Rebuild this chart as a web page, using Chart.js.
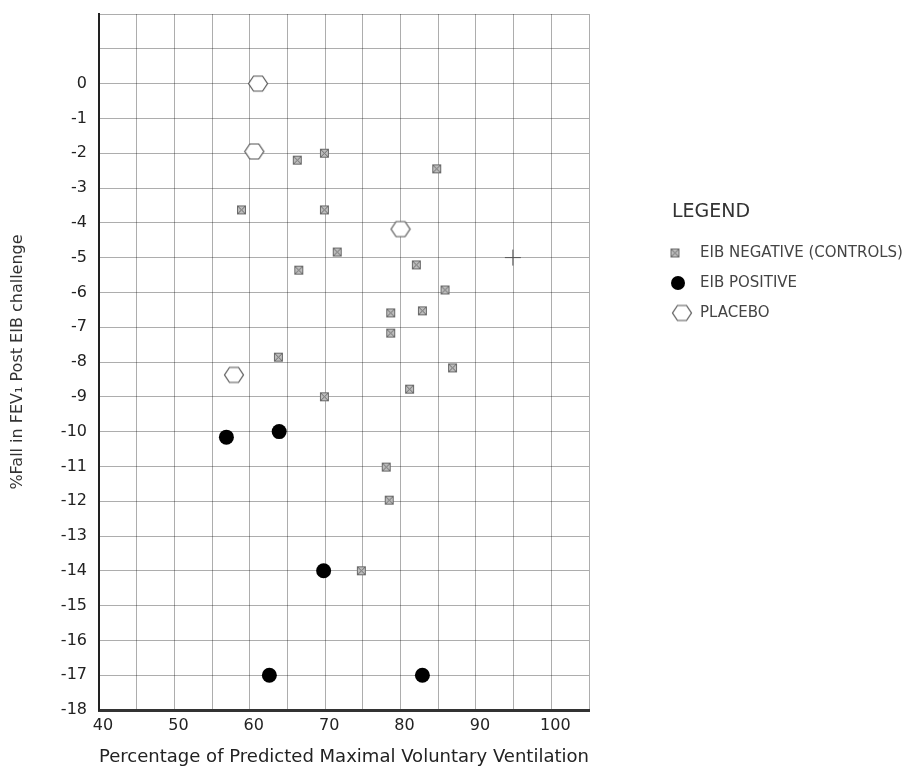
<!DOCTYPE html>
<html>
<head>
<meta charset="utf-8">
<title>% Fall in FEV1 vs MVV</title>
<script src="https://cdn.jsdelivr.net/npm/chart.js@4/dist/chart.umd.min.js"></script>
<style>
  html, body { margin: 0; padding: 0; background: #fff; }
  #wrap { width: 909px; height: 769px; }
</style>
</head>
<body>
<div id="wrap"><canvas id="mvvChart" width="909" height="769"></canvas></div>
<script>
"use strict";

// EIB negative (controls)
const negativeX = [66.3, 69.9, 84.8, 58.9, 69.9, 71.6, 66.5, 82.1, 85.9, 78.7, 82.9, 78.7, 63.8, 86.9, 81.2, 69.9, 78.1, 78.5, 74.8];
const negativeY = [-2.2, -2.0, -2.45, -3.63, -3.63, -4.84, -5.36, -5.21, -5.93, -6.59, -6.53, -7.17, -7.86, -8.17, -8.78, -9.0, -11.02, -11.97, -14.0];

// EIB positive
const positiveX = [56.9, 63.9, 69.8, 62.6, 82.9];
const positiveY = [-10.16, -10.0, -14.0, -17.0, -17.0];

// placebo
const placeboX = [61.1, 60.6, 80.0, 57.9];
const placeboY = [0, -1.95, -4.18, -8.37];

// stray cross mark
const crossX = [94.9];
const crossY = [-5.0];

const xTicks = { min: 40, max: 105, step: 5, labelEvery: 10 };
const yTicks = { min: -18, max: 2, step: 1 };

const GRID = "rgba(0,0,0,0.32)";
Chart.defaults.font.family = "'DejaVu Sans', sans-serif";

function points(xs, ys) {
  return xs.map((x, i) => ({ x, y: ys[i] }));
}

function negMarker() {
  const c = document.createElement("canvas");
  c.width = 11;
  c.height = 11;
  const g = c.getContext("2d");
  g.fillStyle = "#bdbdbd";
  g.fillRect(1.5, 1.5, 8, 8);
  g.strokeStyle = "#6a6a6a";
  g.lineWidth = 1;
  g.strokeRect(1.5, 1.5, 8, 8);
  g.beginPath();
  g.moveTo(1.5, 1.5);
  g.lineTo(9.5, 9.5);
  g.moveTo(9.5, 1.5);
  g.lineTo(1.5, 9.5);
  g.stroke();
  return c;
}

function hexMarker() {
  const c = document.createElement("canvas");
  c.width = 22;
  c.height = 19;
  const g = c.getContext("2d");
  const cx = 11, cy = 9.5;
  g.beginPath();
  g.moveTo(cx - 9.5, cy);
  g.lineTo(cx - 4.5, cy - 7.5);
  g.lineTo(cx + 4.5, cy - 7.5);
  g.lineTo(cx + 9.5, cy);
  g.lineTo(cx + 4.5, cy + 7.5);
  g.lineTo(cx - 4.5, cy + 7.5);
  g.closePath();
  g.fillStyle = "#fff";
  g.fill();
  g.strokeStyle = "#555";
  g.lineWidth = 1.2;
  g.stroke();
  return c;
}

const negImg = negMarker();
const hexImg = hexMarker();

// legend drawn at the side, like the original figure
const sideLegend = {
  id: "sideLegend",
  afterDraw(chart) {
    const c = chart.ctx;
    const items = [
      { ds: 0, mx: 675, y: 253 },
      { ds: 1, mx: 678, y: 283 },
      { ds: 2, mx: 682, y: 313 },
    ];
    c.save();
    c.textBaseline = "middle";
    c.fillStyle = "#333";
    c.font = "19px 'DejaVu Sans', sans-serif";
    c.fillText("LEGEND", 672, 212);
    c.font = "15px 'DejaVu Sans', sans-serif";
    items.forEach((it) => {
      const ds = chart.data.datasets[it.ds];
      if (ds.pointStyle instanceof HTMLCanvasElement) {
        const img = ds.pointStyle;
        c.drawImage(img, it.mx - img.width / 2, it.y - img.height / 2);
      } else {
        c.beginPath();
        c.arc(it.mx, it.y, 7, 0, Math.PI * 2);
        c.fillStyle = "#000";
        c.fill();
      }
      c.fillStyle = "#444";
      c.fillText(ds.label, 700, it.y);
    });
    c.restore();
  },
};

const ctx = document.getElementById("mvvChart").getContext("2d");
new Chart(ctx, {
  type: "scatter",
  data: {
    datasets: [
      {
        label: "EIB NEGATIVE (CONTROLS)",
        data: points(negativeX, negativeY),
        pointStyle: negImg,
        pointRadius: 5,
      },
      {
        label: "EIB POSITIVE",
        data: points(positiveX, positiveY),
        pointStyle: "circle",
        pointRadius: 7.5,
        backgroundColor: "#000",
        borderColor: "#000",
        borderWidth: 0,
      },
      {
        label: "PLACEBO",
        data: points(placeboX, placeboY),
        pointStyle: hexImg,
        pointRadius: 9,
      },
      {
        label: "",
        data: points(crossX, crossY),
        pointStyle: "cross",
        pointRadius: 8,
        borderColor: "#555",
        borderWidth: 1,
      },
    ],
  },
  options: {
    responsive: false,
    animation: false,
    layout: { padding: { top: 14, right: 320, left: 0, bottom: 0 } },
    plugins: { legend: { display: false }, tooltip: { enabled: false } },
    scales: {
      x: {
        type: "linear",
        min: xTicks.min,
        max: xTicks.max,
        afterFit: (s) => {
          s.height = 59;
          s.paddingLeft = 0;
          s.paddingRight = 0;
        },
        grid: { color: GRID, drawTicks: false },
        border: { color: "#333", width: 3 },
        ticks: {
          stepSize: xTicks.step,
          autoSkip: false,
          maxRotation: 0,
          padding: 6,
          labelOffset: 4,
          color: "#222",
          font: { size: 16 },
          callback: (v) => (v % xTicks.labelEvery === 0 ? v : ""),
        },
        title: {
          display: true,
          text: "Percentage of Predicted Maximal Voluntary Ventilation",
          color: "#222",
          font: { size: 18.3 },
          padding: { top: 0, bottom: 1 },
        },
      },
      y: {
        type: "linear",
        min: yTicks.min,
        max: yTicks.max,
        afterFit: (s) => {
          s.width = 99;
          s.paddingTop = 0;
          s.paddingBottom = 0;
        },
        grid: { color: GRID, drawTicks: false },
        border: { color: "#222", width: 2 },
        ticks: {
          stepSize: yTicks.step,
          autoSkip: false,
          padding: 12,
          color: "#222",
          font: { size: 16 },
          callback: (v) => (v > 0 ? "" : v),
        },
        title: {
          display: true,
          text: "%Fall in FEV\u2081 Post EIB challenge",
          color: "#333",
          font: { size: 16 },
          padding: { top: 8, bottom: 0 },
        },
      },
    },
  },
  plugins: [sideLegend],
});
</script>
</body>
</html>
